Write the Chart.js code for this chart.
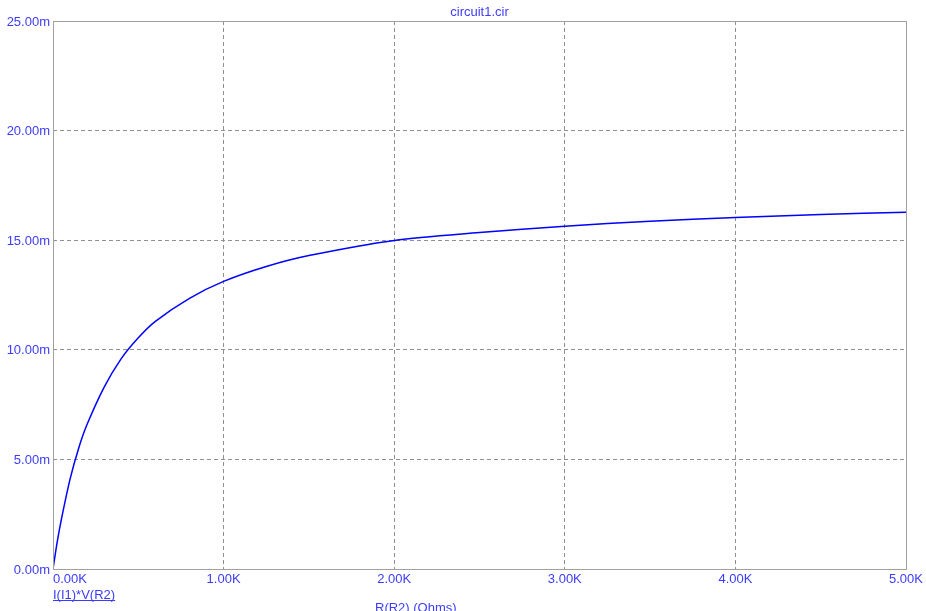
<!DOCTYPE html>
<html>
<head>
<meta charset="utf-8">
<title>circuit1.cir</title>
<script src="https://cdn.jsdelivr.net/npm/chart.js@4"></script>
<style>
  html, body { margin: 0; padding: 0; background: #fff; }
  #wrap { width: 926px; height: 611px; }
</style>
</head>
<body>
<div id="wrap"><canvas id="chart" width="926" height="611"></canvas></div>
<script>
// ══════════════════════════════════════════════
//  DATA  (R in ohms, power in "m" units)
// ══════════════════════════════════════════════
const resistance = [0, 25, 50, 100, 150, 200, 300, 400, 500, 600, 800, 1000, 1250, 1500, 2000, 2500, 3000, 3500, 4000, 4500, 5000];
const power      = [0, 1.25, 2.3, 4.1, 5.5, 6.6, 8.3, 9.6, 10.55, 11.3, 12.35, 13.12, 13.8, 14.3, 14.99, 15.35, 15.64, 15.87, 16.04, 16.17, 16.28];
const xTicks = [0, 1000, 2000, 3000, 4000, 5000];
const yTicks = [0, 5, 10, 15, 20, 25];
const xTickLabels = ['0.00K', '1.00K', '2.00K', '3.00K', '4.00K', '5.00K'];
const yTickLabels = ['0.00m', '5.00m', '10.00m', '15.00m', '20.00m', '25.00m'];

const TXT = '#3c3cff';
const FONT = '13px "Liberation Sans", Arial, sans-serif';

// frame + labels drawn by hand (MicroCap style)
const frameLabels = {
  id: 'frameLabels',
  afterDraw(chart) {
    const { ctx, chartArea: a, scales: { x, y } } = chart;
    ctx.save();
    ctx.strokeStyle = '#a0a0a0';
    ctx.lineWidth = 1;
    ctx.strokeRect(a.left + 0.5, a.top + 0.5, a.right - a.left, a.bottom - a.top);

    ctx.font = FONT;
    ctx.fillStyle = TXT;

    // y tick labels
    ctx.textAlign = 'right'; ctx.textBaseline = 'middle';
    yTicks.forEach((v, i) => ctx.fillText(yTickLabels[i], a.left - 3, y.getPixelForValue(v) + 1));

    // x tick labels
    ctx.textBaseline = 'middle';
    xTicks.forEach((v, i) => {
      const px = x.getPixelForValue(v);
      ctx.textAlign = i === 0 ? 'left' : 'center';
      ctx.fillText(xTickLabels[i], px, a.bottom + 10);
    });

    // title
    ctx.textAlign = 'center';
    ctx.fillText('circuit1.cir', (a.left + a.right) / 2, 12);

    // trace name, underlined
    ctx.textAlign = 'left';
    const nm = 'I(I1)*V(R2)';
    ctx.fillText(nm, a.left, a.bottom + 26);
    const w = ctx.measureText(nm).width;
    ctx.fillRect(a.left, a.bottom + 31, w, 1);

    // x axis name (cut off at bottom edge)
    ctx.textBaseline = 'alphabetic';
    ctx.fillText('R(R2) (Ohms)', 375, 612);
    ctx.restore();
  }
};

new Chart(document.getElementById('chart'), {
  type: 'line',
  data: {
    datasets: [{
      data: resistance.map((r, i) => ({ x: r, y: power[i] })),
      borderColor: '#0000ff', borderWidth: 1.5, pointRadius: 0,
      tension: 0.3, fill: false
    }]
  },
  options: {
    responsive: false, animation: false,
    layout: { padding: { left: 53, right: 20, top: 21, bottom: 42 } },
    plugins: { legend: { display: false }, tooltip: { enabled: false } },
    scales: {
      x: {
        type: 'linear', min: 0, max: 5000,
        afterBuildTicks: s => { s.ticks = xTicks.map(v => ({ value: v })); },
        ticks: { display: false },
        grid: { color: '#909090', lineWidth: 1, drawTicks: false },
        border: { display: false, dash: [4, 3] }
      },
      y: {
        min: 0, max: 25,
        afterBuildTicks: s => { s.ticks = yTicks.map(v => ({ value: v })); },
        ticks: { display: false },
        grid: { color: '#909090', lineWidth: 1, drawTicks: false },
        border: { display: false, dash: [4, 3] }
      }
    }
  },
  plugins: [frameLabels]
});
</script>
</body>
</html>
